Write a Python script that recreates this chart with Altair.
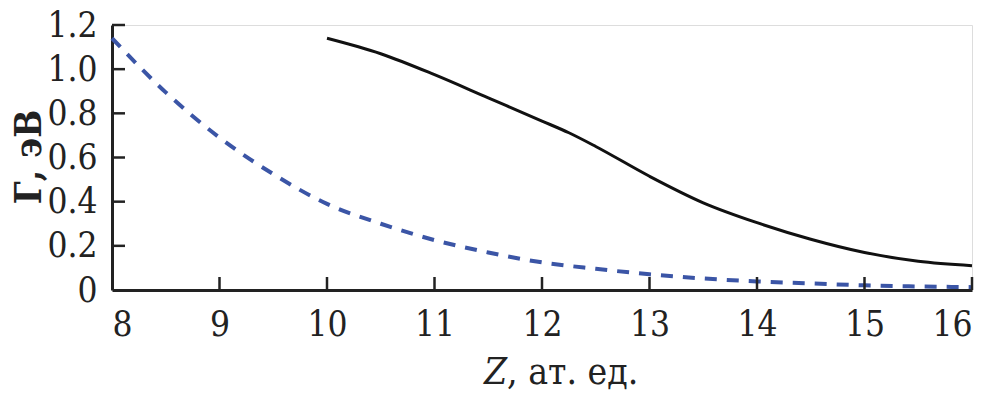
import altair as alt
import pandas as pd

# --- data ---
z_solid = [10, 10.5, 11, 11.5, 12, 12.25, 12.5, 13, 13.5, 14, 14.5, 15, 15.5, 16]
g_solid = [1.14, 1.07, 0.975, 0.87, 0.765, 0.712, 0.65, 0.515, 0.395, 0.305, 0.23, 0.17, 0.13, 0.11]

z_dash = [8, 8.5, 9, 9.5, 10, 10.5, 11, 11.5, 12, 12.5, 13, 13.5, 14, 14.5, 15, 15.5, 16]
g_dash = [1.14, 0.895, 0.69, 0.525, 0.39, 0.30, 0.226, 0.17, 0.125, 0.096, 0.071, 0.052, 0.039, 0.03, 0.021, 0.016, 0.013]

x_ticks = [8, 9, 10, 11, 12, 13, 14, 15, 16]
y_ticks = [0, 0.2, 0.4, 0.6, 0.8, 1.0, 1.2]
x_inner_ticks = [9, 10, 11, 12, 13, 14, 15, 16]
y_inner_ticks = [0.2, 0.4, 0.6, 0.8, 1.0, 1.2]

x_title_italic = ["Z"]
x_title_rest = [", ат. ед."]
y_title = ["Г, эВ"]

W, H = 860, 265
FONT = "DejaVu Serif Condensed"
AX = "#222222"

xs = alt.Scale(domain=[8, 16], nice=False, zero=False)
ys = alt.Scale(domain=[0, 1.2], nice=False)

solid_df = pd.DataFrame({"z": z_solid, "g": g_solid})
dash_df = pd.DataFrame({"z": z_dash, "g": g_dash})

x_axis = alt.Axis(values=x_ticks, ticks=False, grid=False, title=None,
                  domainColor=AX, domainWidth=3, labelFont=FONT, labelFontSize=35,
                  labelColor=AX, labelPadding=17, format="d")
y_axis = alt.Axis(values=y_ticks, ticks=False, grid=False, title=None,
                  domainColor=AX, domainWidth=3, labelFont=FONT, labelFontSize=35,
                  labelColor=AX, labelPadding=15,
                  labelExpr="datum.value == 0 ? '0' : format(datum.value, '.1f')")

base_axes = alt.Chart(dash_df).mark_line(opacity=0).encode(
    x=alt.X("z:Q", scale=xs, axis=x_axis),
    y=alt.Y("g:Q", scale=ys, axis=y_axis),
)

dash_line = alt.Chart(dash_df).mark_line(
    color="#3b55a6", strokeWidth=4, strokeDash=[12, 10], interpolate="monotone"
).encode(x=alt.X("z:Q", scale=xs), y=alt.Y("g:Q", scale=ys))

solid_line = alt.Chart(solid_df).mark_line(
    color="#111111", strokeWidth=3, interpolate="monotone"
).encode(x=alt.X("z:Q", scale=xs), y=alt.Y("g:Q", scale=ys))

xt = alt.Chart(pd.DataFrame({"z": x_inner_ticks})).mark_rule(color=AX, strokeWidth=2.5).encode(
    x=alt.X("z:Q", scale=xs), y=alt.value(H), y2=alt.value(H - 13)
)
yt = alt.Chart(pd.DataFrame({"g": y_inner_ticks})).mark_rule(color=AX, strokeWidth=2.5).encode(
    y=alt.Y("g:Q", scale=ys), x=alt.value(0), x2=alt.value(13)
)

t_z = alt.Chart(pd.DataFrame({"t": x_title_italic})).mark_text(
    font=FONT, fontSize=37, fontStyle="italic", align="right", baseline="alphabetic", color=AX
).encode(x=alt.value(395), y=alt.value(359), text="t:N")
t_rest = alt.Chart(pd.DataFrame({"t": x_title_rest})).mark_text(
    font=FONT, fontSize=37, align="left", baseline="alphabetic", color=AX
).encode(x=alt.value(395), y=alt.value(359), text="t:N")
t_y = alt.Chart(pd.DataFrame({"t": y_title})).mark_text(
    font=FONT, fontSize=37, fontWeight="bold", angle=270, align="center",
    baseline="middle", color=AX
).encode(x=alt.value(-82), y=alt.value(132), text="t:N")

chart = alt.layer(base_axes, dash_line, solid_line, xt, yt, t_z, t_rest, t_y).properties(
    width=W, height=H,
    autosize=alt.AutoSizeParams(type="none"),
    padding={"left": 104, "top": 17, "right": 18, "bottom": 104},
).configure_view(stroke=None).configure(background="white")

chart.save("out.html", embed_options={"renderer": "svg", "actions": False})
